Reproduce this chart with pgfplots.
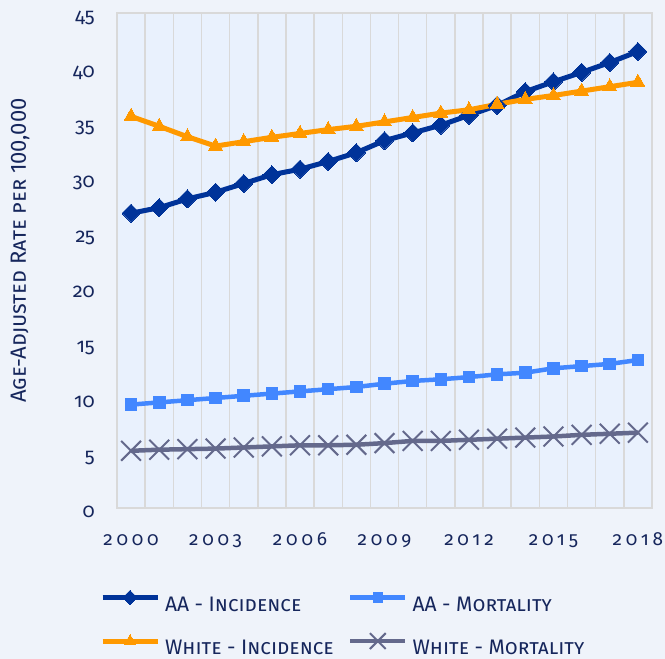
\documentclass[border=0pt]{standalone}
\usepackage{pgfplots}
\pgfplotsset{compat=1.18}
\usepackage{fontspec}
\setmainfont{Fira Sans}[Numbers=OldStyle]

\definecolor{figBg}{RGB}{239,243,250}
\definecolor{plotBg}{RGB}{233,241,253}
\definecolor{gridGray}{RGB}{217,217,217}
\definecolor{txtNavy}{RGB}{22,38,92}
\definecolor{aaInc}{RGB}{0,51,153}
\definecolor{aaMort}{RGB}{66,135,255}
\definecolor{whInc}{RGB}{255,153,0}
\definecolor{whMort}{RGB}{100,105,140}

% year index 0 = 2000 ... 18 = 2018
\pgfplotstableread{
idx aainc aamort whinc whmort
0  26.8  9.4  35.6 5.2
1  27.3  9.6  34.7 5.3
2  28.1  9.8  33.75 5.35
3  28.7  10.0 32.9 5.4
4  29.5  10.2 33.3 5.5
5  30.3  10.4 33.7 5.6
6  30.8  10.6 34.05 5.7
7  31.5  10.8 34.4 5.7
8  32.3  11.0 34.7 5.75
9  33.4  11.3 35.1 5.9
10 34.1  11.55 35.5 6.1
11 34.8  11.7 35.9 6.1
12 35.7  11.9 36.2 6.2
13 36.6  12.15 36.7 6.3
14 37.85 12.3 37.15 6.4
15 38.75 12.7 37.5 6.5
16 39.6  12.9 37.9 6.65
17 40.5  13.1 38.3 6.75
18 41.5  13.45 38.7 6.85
}\rates

\begin{document}
\begin{tikzpicture}[x=1pt,y=1pt]
\path[use as bounding box, fill=figBg] (0,0) rectangle (665,659);
\begin{axis}[
    at={(117pt,151pt)}, anchor=south west,
    scale only axis, width=535pt, height=495pt,
    xmin=-0.5, xmax=18.5, ymin=0, ymax=45,
    xtick={0,3,...,18},
    xticklabels={2000,2003,2006,2009,2012,2015,2018},
    minor xtick={-0.5,0.5,...,18.5},
    xminorgrids, minor grid style={gridGray, line width=1.5pt},
    ytick={0,5,...,45},
    major tick length=0pt, minor tick length=0pt,
    axis line style={gridGray, line width=1.5pt},
    axis background/.style={fill=plotBg},
    /pgf/number format/assume math mode=true,
    tick label style={text=txtNavy, inner sep=0pt},
    yticklabel style={font=\fontsize{20}{24}\selectfont, anchor=base east, xshift=-22pt, yshift=-10pt},
    xticklabel style={font=\fontsize{19}{24}\selectfont\addfontfeatures{LetterSpace=20}, anchor=base, yshift=-38pt},
    ylabel={\textsc{Age-Adjusted Rate per \addfontfeatures{Numbers=Lining}100,000}},
    every axis y label/.style={at={(axis description cs:-0.181,0.52)}, rotate=90, anchor=center,
        font=\fontsize{22}{24}\selectfont, text=txtNavy},
    legend columns=2,
    legend cell align=left,
    legend style={at={(axis description cs:-0.032,-0.166)}, anchor=north west,
        draw=none, fill=none, inner sep=0pt, row sep=20pt,
        font=\fontsize{21}{24}\selectfont, text=txtNavy,
        nodes={inner sep=0pt, text height=15pt, text depth=2pt},
        /tikz/every odd column/.style={column sep=5pt}},
    legend image code/.code={
        \draw[mark repeat=2, mark phase=2, #1, /tikz/every mark/.append style={scale=0.8}]
            plot coordinates {(0pt,7pt) (27.5pt,7pt) (55pt,7pt)};},
]
\addplot[aaInc, line width=5pt, mark=square*, mark size=6.4pt,
    mark options={rotate=45, line width=0pt}] table[x=idx, y=aainc] {\rates};
\addlegendentry{\makebox[183pt][l]{\textsc{AA - Incidence}}}
\addplot[aaMort, line width=4.5pt, mark=square*, mark size=5.8pt,
    mark options={line width=0pt}] table[x=idx, y=aamort] {\rates};
\addlegendentry{\textsc{AA - Mortality}}
\addplot[whInc, line width=5pt, mark=triangle*, mark size=8pt,
    mark options={line width=0pt}] table[x=idx, y=whinc] {\rates};
\addlegendentry{\makebox[183pt][l]{\textsc{White - Incidence}}}
\addplot[whMort, line width=4.5pt, mark=x, mark size=14pt,
    mark options={line width=2pt}] table[x=idx, y=whmort] {\rates};
\addlegendentry{\textsc{White - Mortality}}
\end{axis}
\end{tikzpicture}
\end{document}
